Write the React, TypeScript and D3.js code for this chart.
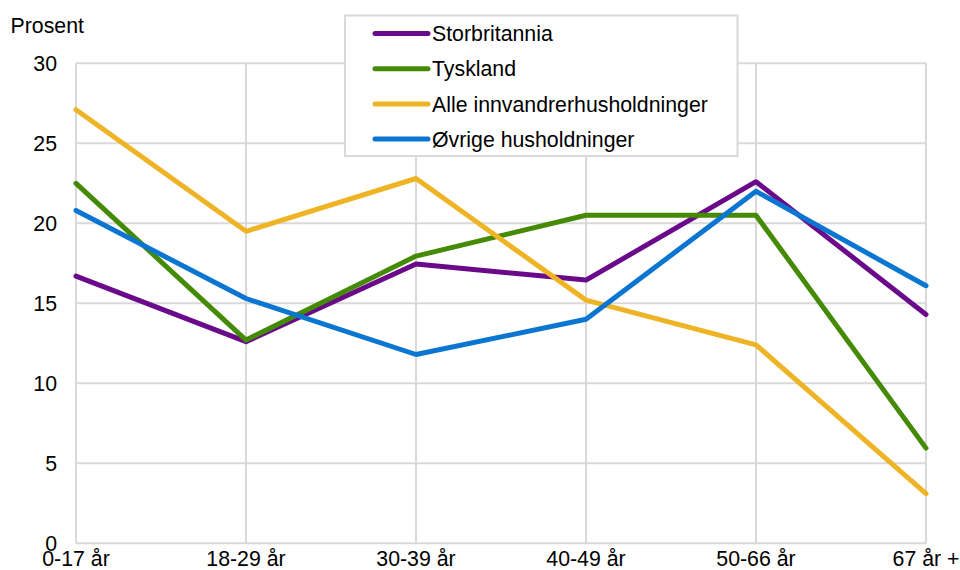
import React from "react";
import * as d3 from "d3";

const categories = ["0-17 år", "18-29 år", "30-39 år", "40-49 år", "50-66 år", "67 år +"];
const storbritannia = [16.7, 12.6, 17.45, 16.45, 22.6, 14.3];
const tyskland = [22.5, 12.7, 17.95, 20.5, 20.5, 5.95];
const alleInnvandrer = [27.1, 19.5, 22.8, 15.2, 12.4, 3.1];
const ovrige = [20.8, 15.3, 11.8, 14.0, 22.0, 16.1];
const yTicks = [0, 5, 10, 15, 20, 25, 30];
const seriesNames = ["Storbritannia", "Tyskland", "Alle innvandrerhusholdninger", "Øvrige husholdninger"];
const seriesColors = ["#6a0a8a", "#458a05", "#efb425", "#0a76d2"];

export default function App() {
  const W = 960, H = 570;
  const left = 76, right = 926, top = 63.3, bottom = 543.3;
  const x = d3.scalePoint<string>().domain(categories).range([left, right]);
  const y = d3.scaleLinear().domain([0, 30]).range([bottom, top]);
  const series = [storbritannia, tyskland, alleInnvandrer, ovrige];
  const line = d3.line<number>().x((_, i) => x(categories[i]) as number).y(d => y(d));
  const font = "'Liberation Sans', Arial, sans-serif";
  const grid = "#d9d9d9";
  const fs = 21.3;
  const legX = 345, legY = 15.5, legW = 392.5, legH = 140.5;
  return (
    <svg width={W} height={H} style={{ position: "absolute", left: 0, top: 0, background: "#fff" }} fontFamily={font}>
      {yTicks.map(t => (
        <line key={"h" + t} x1={left} x2={right} y1={y(t)} y2={y(t)} stroke={grid} strokeWidth={2} />
      ))}
      {categories.map(c => (
        <line key={"v" + c} x1={x(c)} x2={x(c)} y1={top} y2={bottom} stroke={grid} strokeWidth={2} />
      ))}
      {yTicks.map(t => (
        <text key={"yt" + t} x={57} y={y(t)} dy="0.36em" textAnchor="end" fontSize={fs} fill="#000">{t}</text>
      ))}
      {categories.map(c => (
        <text key={"xt" + c} x={x(c)} y={565.5} textAnchor="middle" fontSize={fs} fill="#000">{c}</text>
      ))}
      <text x={10.5} y={33} fontSize={fs} fill="#000">Prosent</text>
      {series.map((s, i) => (
        <path key={"s" + i} d={line(s) || ""} fill="none" stroke={seriesColors[i]} strokeWidth={5} strokeLinejoin="round" strokeLinecap="round" />
      ))}
      <rect x={legX} y={legY} width={legW} height={legH} fill="#fff" stroke={grid} strokeWidth={2} />
      {seriesNames.map((n, i) => (
        <g key={"l" + i} transform={`translate(0, ${33.5 + i * 35.2})`}>
          <line x1={375} x2={428} y1={0} y2={0} stroke={seriesColors[i]} strokeWidth={5} strokeLinecap="round" />
          <text x={432} y={0} dy="0.36em" fontSize={fs} fill="#000">{n}</text>
        </g>
      ))}
    </svg>
  );
}
